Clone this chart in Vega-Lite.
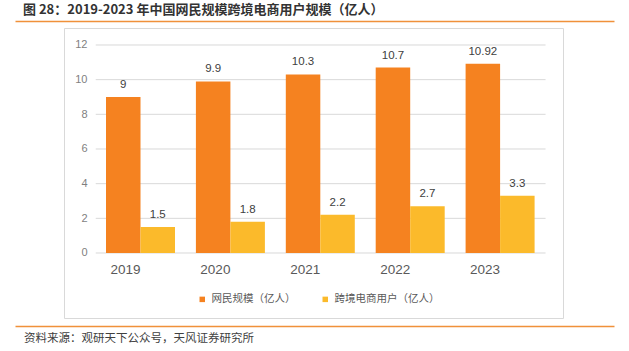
{
  "$schema": "https://vega.github.io/schema/vega-lite/v6.json",
  "padding": {"left": 23, "top": 4, "right": 0, "bottom": 0},
  "bounds": "flush",
  "spacing": 7,
  "background": "white",
  "datasets": {
    "main": [
      {"year": "2019", "series": "网民规模（亿人）", "value": 9},
      {"year": "2020", "series": "网民规模（亿人）", "value": 9.9},
      {"year": "2021", "series": "网民规模（亿人）", "value": 10.3},
      {"year": "2022", "series": "网民规模（亿人）", "value": 10.7},
      {"year": "2023", "series": "网民规模（亿人）", "value": 10.92},
      {"year": "2019", "series": "跨境电商用户（亿人）", "value": 1.5},
      {"year": "2020", "series": "跨境电商用户（亿人）", "value": 1.8},
      {"year": "2021", "series": "跨境电商用户（亿人）", "value": 2.2},
      {"year": "2022", "series": "跨境电商用户（亿人）", "value": 2.7},
      {"year": "2023", "series": "跨境电商用户（亿人）", "value": 3.3}
    ],
    "grid": [{"tick": 0}, {"tick": 2}, {"tick": 4}, {"tick": 6}, {"tick": 8}, {"tick": 10}, {"tick": 12}]
  },
  "vconcat": [
    {
      "width": 499,
      "height": 1,
      "view": {"stroke": null},
      "title": {
        "text": "图 28：2019-2023 年中国网民规模跨境电商用户规模（亿人）",
        "anchor": "start", "frame": "group", "dx": -41, "offset": -7,
        "baseline": "alphabetic", "fontSize": 13, "fontWeight": "bold",
        "font": "Noto Sans CJK SC", "color": "#333333"
      },
      "data": {"values": []},
      "mark": {"type": "point", "opacity": 0},
      "encoding": {
        "x": {
          "field": "v", "type": "quantitative",
          "scale": {"domain": [0, 1], "range": [-49, 550]},
          "axis": {"orient": "bottom", "title": null, "labels": false, "ticks": false, "grid": false, "domainColor": "#F0913A", "domainWidth": 1.5}
        }
      }
    },
    {
      "width": 499,
      "height": 290,
      "view": {"stroke": "#D9D9D9", "strokeWidth": 1},
      "data": {"name": "main"},
      "layer": [
        {
          "data": {"name": "grid"},
          "mark": {"type": "rule", "color": "#D9D9D9", "strokeWidth": 1},
          "encoding": {
            "y": {
              "field": "tick", "type": "quantitative",
              "scale": {"domain": [-3.75, 12.98], "nice": false},
              "axis": {"title": null, "values": [0, 2, 4, 6, 8, 10, 12], "offset": -31, "labelPadding": 8, "ticks": false, "tickSize": 0, "domain": false, "grid": false, "labelFontSize": 11, "labelColor": "#7F7F7F", "labelFont": "Liberation Sans"}
            },
            "x": {"datum": "2019", "type": "nominal", "bandPosition": -0.149},
            "x2": {"datum": "2023", "bandPosition": 1.159}
          }
        },
        {
          "mark": {"type": "bar"},
          "encoding": {
            "x": {
              "field": "year", "type": "nominal",
              "scale": {"paddingInner": 0.2325, "paddingOuter": 0.3916, "align": 0.5966},
              "axis": {"title": null, "orient": "bottom", "offset": -56, "labelPadding": 0, "ticks": false, "tickSize": 0, "domain": false, "labelAngle": 0, "labelFontSize": 13.5, "labelColor": "#595959", "labelFont": "Liberation Sans", "labelBaseline": "top"}
            },
            "xOffset": {"field": "series", "type": "nominal", "scale": {"paddingInner": 0, "paddingOuter": 0, "domain": ["网民规模（亿人）", "跨境电商用户（亿人）"]}},
            "y": {
              "field": "value", "type": "quantitative",
              "scale": {"domain": [-3.75, 12.98], "nice": false},
              "axis": {"title": null, "values": [0, 2, 4, 6, 8, 10, 12], "offset": -31, "labelPadding": 8, "ticks": false, "tickSize": 0, "domain": false, "grid": false, "labelFontSize": 11, "labelColor": "#7F7F7F", "labelFont": "Liberation Sans"}
            },
            "y2": {"datum": 0},
            "color": {
              "field": "series", "type": "nominal",
              "scale": {"domain": ["网民规模（亿人）", "跨境电商用户（亿人）"], "range": ["#F58220", "#FBBA2B"]},
              "legend": {"title": null, "orient": "none", "legendX": 133, "legendY": 274, "direction": "horizontal", "symbolType": "square", "symbolSize": 30, "symbolStrokeWidth": 0, "labelFontSize": 10.5, "labelColor": "#595959", "labelFont": "Noto Sans CJK SC", "columnPadding": 24, "labelOffset": 4}
            }
          }
        },
        {
          "mark": {"type": "text", "baseline": "bottom", "dy": -7, "fontSize": 11.5, "color": "#404040", "font": "Liberation Sans"},
          "encoding": {
            "x": {"field": "year", "type": "nominal"},
            "xOffset": {"field": "series", "type": "nominal"},
            "y": {"field": "value", "type": "quantitative"},
            "text": {"field": "value", "type": "quantitative", "format": "~g"}
          }
        }
      ]
    },
    {
      "width": 499,
      "height": 1,
      "view": {"stroke": null},
      "title": {
        "text": "资料来源：观研天下公众号，天风证券研究所",
        "orient": "bottom", "anchor": "start", "frame": "group", "dx": -40, "offset": 7,
        "baseline": "top", "fontSize": 11.5, "fontWeight": "normal",
        "font": "Noto Sans CJK SC", "color": "#404040"
      },
      "data": {"values": []},
      "mark": {"type": "point", "opacity": 0},
      "encoding": {
        "x": {
          "field": "v", "type": "quantitative",
          "scale": {"domain": [0, 1], "range": [-49, 550]},
          "axis": {"orient": "bottom", "title": null, "labels": false, "ticks": false, "grid": false, "domainColor": "#F0913A", "domainWidth": 1.5}
        }
      }
    }
  ]
}
